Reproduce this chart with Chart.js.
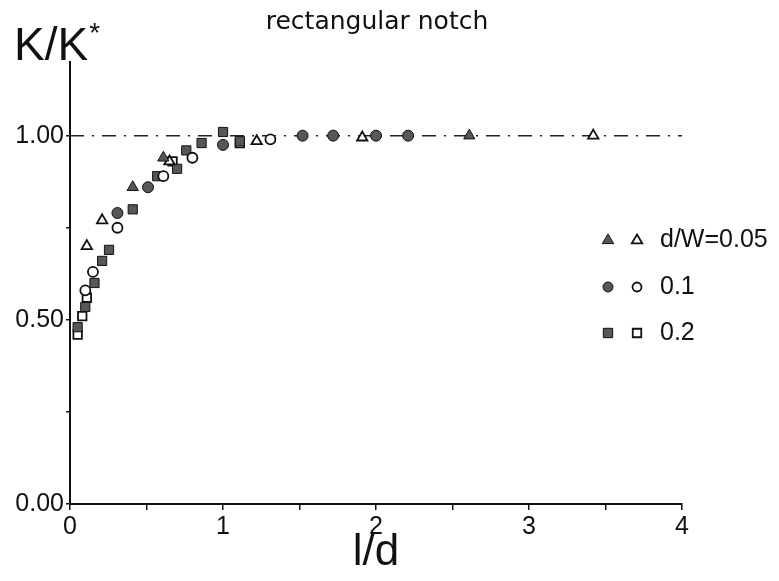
<!DOCTYPE html>
<html>
<head>
<meta charset="utf-8">
<script src="https://cdn.jsdelivr.net/npm/chart.js@4.4.1/dist/chart.umd.min.js"></script>
<style>
  html, body { margin: 0; padding: 0; background: #fff; }
  #wrap { width: 779px; height: 581px; }
</style>
</head>
<body>
<div id="wrap"><canvas id="notchChart" width="779" height="581"></canvas></div>
<script>
// d/W = 0.05 (triangles)
let triFilledX = [0.41, 0.61, 2.61]
let triFilledY = [0.86, 0.94, 1.00]
let triOpenX = [0.11, 0.21, 0.65, 1.22, 1.91, 3.42]
let triOpenY = [0.70, 0.77, 0.93, 0.985, 0.995, 1.00]

// d/W = 0.1 (circles)
let circFilledX = [0.31, 0.51, 1.00, 1.52, 1.72, 2.00, 2.21]
let circFilledY = [0.79, 0.86, 0.975, 1.00, 1.00, 1.00, 1.00]
let circOpenX = [0.10, 0.15, 0.31, 0.61, 0.80, 1.31]
let circOpenY = [0.58, 0.63, 0.75, 0.89, 0.94, 0.99]

// d/W = 0.2 (squares)
let sqFilledX = [0.05, 0.10, 0.16, 0.21, 0.255, 0.41, 0.57, 0.70, 0.76, 0.86, 1.00, 1.11]
let sqFilledY = [0.48, 0.535, 0.60, 0.66, 0.69, 0.80, 0.89, 0.91, 0.96, 0.98, 1.01, 0.985]
let sqOpenX = [0.05, 0.08, 0.11, 0.67, 1.11]
let sqOpenY = [0.46, 0.51, 0.56, 0.93, 0.98]

let refX = [0, 4]
let refY = [1, 1]

let legendLabels = [`d/W=0.05`, `0.1`, `0.2`]
let yTickLabels = [0, 0.5, 1]

function pts(xs, ys) {
    return xs.map((x, i) => {
        return { x: x, y: ys[i] }
    })
}

const fillGray = `#575757`
const ink = `#111`

function markerSet(label, xs, ys, style, filled, r) {
    return {
        type: `scatter`,
        label: label,
        data: pts(xs, ys),
        pointStyle: style,
        pointRadius: r,
        pointBackgroundColor: filled ? fillGray : `#fff`,
        pointBorderColor: ink,
        pointBorderWidth: filled ? 1 : 1.8,
        order: 1
    }
}

// title, K/K* label and the two-symbol legend
const extras = {
    id: `extras`,
    afterDraw(chart) {
        const c = chart.ctx
        c.save()
        c.fillStyle = ink
        c.textBaseline = `middle`
        c.font = `25px "DejaVu Sans", sans-serif`
        c.textAlign = `center`
        c.fillText(`rectangular notch`, 377, 22)

        c.textAlign = `left`
        c.textBaseline = `alphabetic`
        c.font = `46px "Liberation Sans Narrow", "Liberation Sans", sans-serif`
        c.fillText(`K/K`, 14, 60)
        const w = c.measureText(`K/K`).width
        c.font = `28px "Liberation Sans", sans-serif`
        c.fillText(`*`, 14 + w + 1, 42)

        const rows = [240, 287, 333]
        const styles = [`triangle`, `circle`, `rect`]
        const radii = [6, 5, 5.5]
        c.textBaseline = `middle`
        c.font = `25px "Liberation Sans", sans-serif`
        rows.forEach((y, i) => {
            drawMark(c, styles[i], 608, y, radii[i], true)
            drawMark(c, styles[i], 637, y, radii[i] - 0.5, false)
            c.fillStyle = ink
            c.fillText(legendLabels[i], 660, y)
        })
        c.restore()
    }
}

function drawMark(c, style, x, y, r, filled) {
    c.beginPath()
    if (style === `triangle`) {
        c.moveTo(x, y - r)
        c.lineTo(x + r * 0.95, y + r * 0.6)
        c.lineTo(x - r * 0.95, y + r * 0.6)
        c.closePath()
    } else if (style === `circle`) {
        c.arc(x, y, r, 0, Math.PI * 2)
    } else {
        const s = r * 0.85
        c.rect(x - s, y - s, s * 2, s * 2)
    }
    c.fillStyle = filled ? fillGray : `#fff`
    c.fill()
    c.lineWidth = filled ? 1 : 1.8
    c.strokeStyle = ink
    c.stroke()
}

function notchChart() {
    const ctx = document.getElementById(`notchChart`)

    new Chart(ctx, {
        data: {
            datasets: [
                {
                    type: `line`,
                    label: `K/K*=1`,
                    data: pts(refX, refY),
                    borderColor: `#222`,
                    borderWidth: 1.5,
                    borderDash: [14, 8, 2, 8],
                    pointRadius: 0,
                    order: 10
                },
                markerSet(`0.05 a`, triFilledX, triFilledY, `triangle`, true, 6.5),
                markerSet(`0.05 b`, triOpenX, triOpenY, `triangle`, false, 6),
                markerSet(`0.1 a`, circFilledX, circFilledY, `circle`, true, 5.5),
                markerSet(`0.1 b`, circOpenX, circOpenY, `circle`, false, 5),
                markerSet(`0.2 a`, sqFilledX, sqFilledY, `rect`, true, 6.5),
                markerSet(`0.2 b`, sqOpenX, sqOpenY, `rect`, false, 6)
            ]
        },
        options: {
            responsive: false,
            animation: false,
            layout: { padding: { top: 62, right: 97, left: 0, bottom: 0 } },
            plugins: {
                legend: { display: false },
                tooltip: { enabled: false },
                title: { display: false }
            },
            scales: {
                x: {
                    type: `linear`,
                    min: 0,
                    max: 4,
                    afterFit: (s) => { s.height = 77 },
                    border: { color: ink, width: 2 },
                    grid: { drawOnChartArea: false, color: ink, tickLength: 6, lineWidth: 1.5 },
                    ticks: {
                        stepSize: 0.5,
                        color: ink,
                        padding: 2,
                        font: { family: `"Liberation Sans", sans-serif`, size: 25 },
                        callback: (v) => Number.isInteger(v) ? String(v) : ``
                    },
                    title: {
                        display: true,
                        text: `l/d`,
                        color: ink,
                        padding: { top: 0, bottom: 2 },
                        font: { family: `"Liberation Sans Narrow", "Liberation Sans", sans-serif`, size: 44 }
                    }
                },
                y: {
                    type: `linear`,
                    min: 0,
                    max: 1.2,
                    afterFit: (s) => { s.width = 70 },
                    afterBuildTicks: (s) => {
                        s.ticks = s.ticks.filter((t) => t.value <= 1.0001)
                    },
                    border: { color: ink, width: 2 },
                    grid: { drawOnChartArea: false, color: ink, tickLength: 4, lineWidth: 1.5 },
                    ticks: {
                        stepSize: 0.25,
                        color: ink,
                        padding: 2,
                        font: { family: `"Liberation Sans", sans-serif`, size: 25 },
                        callback: (v) => yTickLabels.some((t) => Math.abs(t - v) < 1e-6) ? v.toFixed(2) : ``
                    }
                }
            }
        },
        plugins: [extras]
    })
}

notchChart()
</script>
</body>
</html>
